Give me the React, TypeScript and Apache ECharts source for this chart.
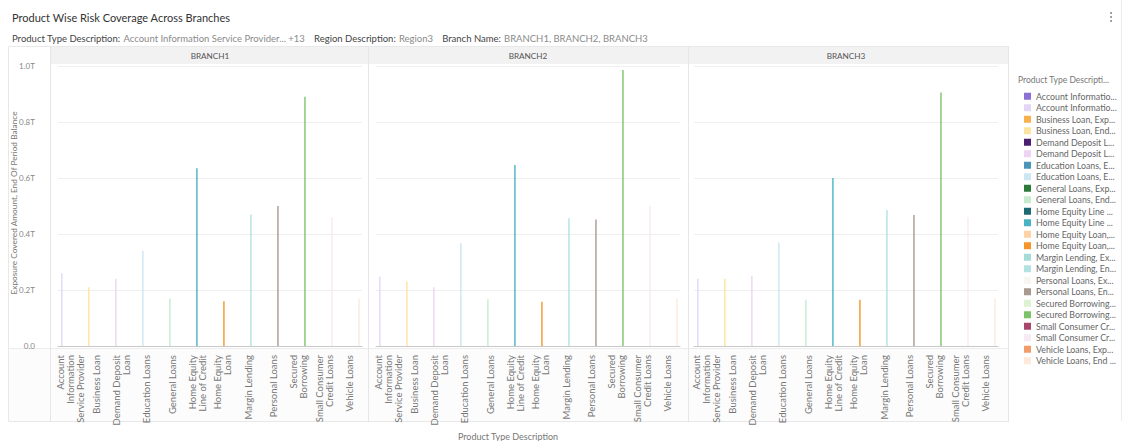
import React, { useEffect, useRef } from 'react';
import * as echarts from 'echarts';

const branches = ['BRANCH1', 'BRANCH2', 'BRANCH3'];
const products = [
  'Account Information Service Provider',
  'Business Loan',
  'Demand Deposit Loan',
  'Education Loans',
  'General Loans',
  'Home Equity Line of Credit',
  'Home Equity Loan',
  'Margin Lending',
  'Personal Loans',
  'Secured Borrowing',
  'Small Consumer Credit Loans',
  'Vehicle Loans',
];
const categoryLabels = [
  'Account\nInformation\nService Provider',
  'Business Loan',
  'Demand Deposit\nLoan',
  'Education Loans',
  'General Loans',
  'Home Equity\nLine of Credit',
  'Home Equity\nLoan',
  'Margin Lending',
  'Personal Loans',
  'Secured\nBorrowing',
  'Small Consumer\nCredit Loans',
  'Vehicle Loans',
];
const measures = ['Exposure Covered Amount', 'End Of Period Balance'];
const yTicks = [0, 0.2, 0.4, 0.6, 0.8, 1.0];

// values in trillions
const branch1Exposure = [0, 0, 0, 0, 0, 0, 0, 0, 0, 0, 0, 0];
const branch1EndBalance = [0.26, 0.21, 0.24, 0.34, 0.17, 0.635, 0.16, 0.47, 0.5, 0.89, 0.46, 0.17];
const branch2Exposure = [0, 0, 0, 0, 0, 0, 0, 0, 0, 0, 0, 0];
const branch2EndBalance = [0.247, 0.23, 0.21, 0.367, 0.167, 0.646, 0.158, 0.456, 0.452, 0.986, 0.5, 0.17];
const branch3Exposure = [0, 0, 0, 0, 0, 0, 0, 0, 0, 0, 0, 0];
const branch3EndBalance = [0.24, 0.24, 0.25, 0.37, 0.165, 0.6, 0.165, 0.486, 0.468, 0.905, 0.46, 0.17];

const seriesColors = [
  '#8a6fd4', '#e3d6f5',
  '#f7b04a', '#fde3a0',
  '#4b1f6f', '#efd3f3',
  '#4c94b8', '#cde6f4',
  '#2a7a3a', '#c6ebcf',
  '#1e6a72', '#49b2c3',
  '#fdd3a6', '#f4952a',
  '#a6dcd8', '#b3e2e2',
  '#f8f6f0', '#a99a90',
  '#dcf2d0', '#7cc36a',
  '#a8476c', '#f6ebf2',
  '#f39c6b', '#fdeadb',
];

const FONT = 'Lato, "Open Sans", sans-serif';

export default function App() {
  const ref = useRef<HTMLDivElement>(null);
  useEffect(() => {
    if (!ref.current) return;
    const chart = echarts.init(ref.current, undefined, { renderer: 'svg' });
    const data = [
      [branch1Exposure, branch1EndBalance],
      [branch2Exposure, branch2EndBalance],
      [branch3Exposure, branch3EndBalance],
    ];
    const gridLefts = [58, 376, 694];
    const gridW = 304;
    const gridTop = 66;
    const gridH = 280;

    const legendNames: string[] = [];
    products.forEach((p) => measures.forEach((m) => legendNames.push(`${p}, ${m}`)));

    const series: any[] = [];
    branches.forEach((_, b) => {
      products.forEach((p, pi) => {
        measures.forEach((m, mi) => {
          const vals = data[b][mi];
          series.push({
            type: 'bar',
            name: `${p}, ${m}`,
            xAxisIndex: b,
            yAxisIndex: b,
            barWidth: 1.4,
            barGap: '-40%',
            itemStyle: { color: seriesColors[pi * 2 + mi] },
            data: products.map((_, j) => (j === pi ? vals[pi] : null)),
          });
        });
      });
    });

    const graphic: any[] = [
      { type: 'rect', shape: { x: 8.5, y: 348.5, width: 1000, height: 73 }, style: { fill: '#fcfcfc', stroke: 'none' }, z: -10 },
      { type: 'rect', shape: { x: 8.5, y: 46.5, width: 1000, height: 375 }, style: { fill: 'none', stroke: '#e8e8e8', lineWidth: 1 }, z: -5 },
      { type: 'line', shape: { x1: 8, y1: 348.5, x2: 1008, y2: 348.5 }, style: { stroke: '#ececec', lineWidth: 1 }, z: -5 },
      { type: 'line', shape: { x1: 1121.5, y1: 0, x2: 1121.5, y2: 421 }, style: { stroke: '#ececec', lineWidth: 1 } },
      {
        type: 'text', x: 12, y: 17,
        style: { text: 'Product Wise Risk Coverage Across Branches', fontSize: 11, fill: '#333', fontFamily: FONT, verticalAlign: 'middle' },
      },
      {
        type: 'text', x: 12, y: 38,
        style: {
          text: '{k|Product Type Description:} {v|Account Information Service Provider... +13}   {k|Region Description:} {v|Region3}   {k|Branch Name:} {v|BRANCH1, BRANCH2, BRANCH3}',
          fontFamily: FONT,
          verticalAlign: 'middle',
          rich: {
            k: { fontSize: 9.5, fill: '#444', fontFamily: FONT },
            v: { fontSize: 9.5, fill: '#8a8a8a', fontFamily: FONT },
          },
        },
      },
      { type: 'circle', shape: { cx: 1111, cy: 13, r: 0.9 }, style: { fill: '#777' } },
      { type: 'circle', shape: { cx: 1111, cy: 17, r: 0.9 }, style: { fill: '#777' } },
      { type: 'circle', shape: { cx: 1111, cy: 21, r: 0.9 }, style: { fill: '#777' } },
      {
        type: 'text', x: 14, y: 203, rotation: Math.PI / 2,
        style: { text: 'Exposure Covered Amount, End Of Period Balance', fontSize: 8.3, fill: '#777', fontFamily: FONT, align: 'center', verticalAlign: 'middle' },
      },
      {
        type: 'text', x: 508, y: 436,
        style: { text: 'Product Type Description', fontSize: 9, fill: '#777', fontFamily: FONT, align: 'center', verticalAlign: 'middle' },
      },
      {
        type: 'text', x: 1018, y: 80,
        style: { text: 'Product Type Descripti...', fontSize: 8.5, fill: '#777', fontFamily: FONT, verticalAlign: 'middle' },
      },
    ];
    const sepX = [50, 368, 688, 1008];
    branches.forEach((br, b) => {
      graphic.push({
        type: 'rect', shape: { x: sepX[b] + 1, y: 47, width: sepX[b + 1] - sepX[b] - 1, height: 17 },
        style: { fill: '#f2f2f2' }, z: -4,
      });
      graphic.push({
        type: 'text', x: gridLefts[b] + gridW / 2, y: 56,
        style: { text: br, fontSize: 8.2, fill: '#555', fontFamily: FONT, align: 'center', verticalAlign: 'middle' },
      });
    });
    sepX.forEach((x) => {
      graphic.push({ type: 'line', shape: { x1: x + 0.5, y1: 46, x2: x + 0.5, y2: 422 }, style: { stroke: '#e6e6e6', lineWidth: 1 }, z: -3 });
    });

    chart.setOption({
      animation: false,
      textStyle: { fontFamily: FONT },
      grid: gridLefts.map((l) => ({ left: l, top: gridTop, width: gridW, height: gridH })),
      xAxis: branches.map((_, b) => ({
        type: 'category',
        gridIndex: b,
        data: categoryLabels,
        axisTick: { show: false },
        axisLine: { lineStyle: { color: '#c8c8c8' } },
        axisLabel: { rotate: 90, interval: 0, fontSize: 9.5, lineHeight: 10, color: '#777', margin: 9, fontFamily: FONT },
      })),
      yAxis: branches.map((_, b) => ({
        type: 'value',
        gridIndex: b,
        min: yTicks[0],
        max: yTicks[yTicks.length - 1],
        interval: 0.2,
        axisLine: { show: false },
        axisTick: { show: false },
        axisLabel: {
          show: b === 0,
          fontSize: 8,
          color: '#888',
          margin: 23,
          fontFamily: FONT,
          formatter: (v: number) => (v === 0 ? '0.0' : v.toFixed(1) + 'T'),
        },
        splitLine: { lineStyle: { color: '#efefef' } },
      })),
      legend: {
        orient: 'vertical',
        left: 1019,
        top: 86,
        itemWidth: 7,
        itemHeight: 7,
        itemGap: 1,
        icon: 'rect',
        selectedMode: false,
        data: legendNames,
        textStyle: { fontSize: 8.8, color: '#666', lineHeight: 10.5, width: 82, overflow: 'truncate', ellipsis: '...', fontFamily: FONT },
      },
      graphic,
      series,
    });
    return () => chart.dispose();
  }, []);
  return <div ref={ref} style={{ position: 'fixed', left: 0, top: 0, width: 1129, height: 441, background: '#fff' }} />;
}
